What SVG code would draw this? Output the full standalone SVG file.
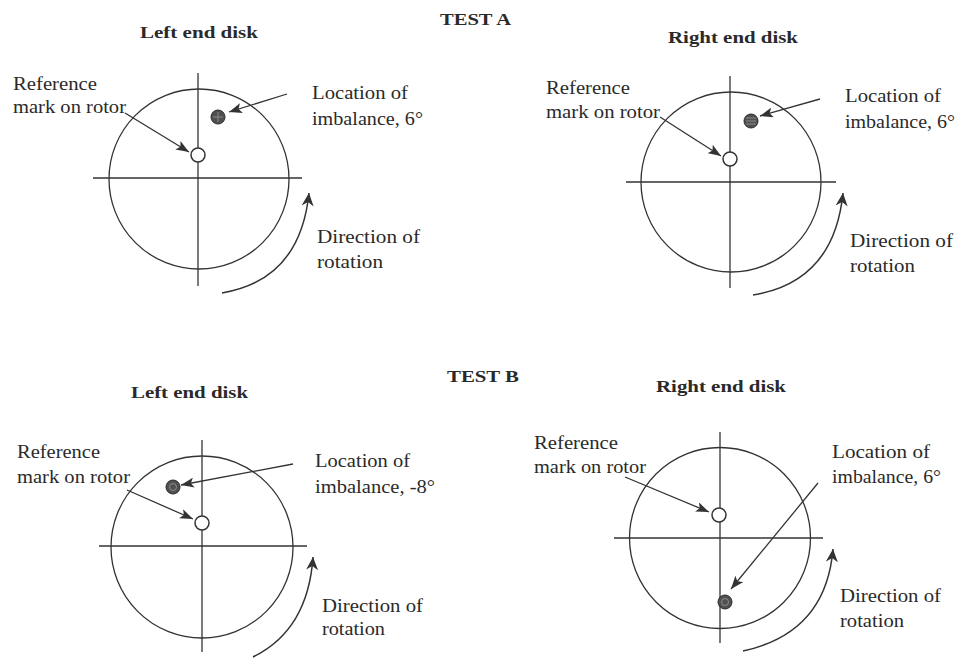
<svg xmlns="http://www.w3.org/2000/svg" width="958" height="658" viewBox="0 0 958 658">
<style>
text{font-family:"Liberation Serif","Times New Roman",serif;fill:#2a2a2a;}
.lbl{font-size:18px;}
.ttl{font-size:17px;font-weight:bold;}
.disk{fill:none;stroke:#333;stroke-width:1.3;}
.axis{stroke:#333;stroke-width:1.3;}
.ref{fill:#fff;stroke:#333;stroke-width:1.5;}
.imb{fill:#505050;stroke:#2a2a2a;stroke-width:1;}
.hatch{stroke:#9a9a9a;stroke-width:0.8;fill:none;}
.arr{fill:none;stroke:#333;stroke-width:1.3;marker-end:url(#tri);}
.rot{fill:none;stroke:#333;stroke-width:1.5;marker-end:url(#curvehead);}
</style>
<defs>
<marker id="tri" markerUnits="userSpaceOnUse" markerWidth="14" markerHeight="10" refX="13" refY="5" orient="auto">
<path d="M0,0 L13,5 L0,10 L3,5 z" fill="#333"/>
</marker>
<marker id="curvehead" markerUnits="userSpaceOnUse" markerWidth="14" markerHeight="12" refX="13" refY="6" orient="auto">
<path d="M0,0 L13,6 L0,12 L4,6 z" fill="#333"/>
</marker>
</defs>
<rect width="958" height="658" fill="#fff"/>

<g id="titles">
<text class="ttl" x="440" y="25" textLength="71" lengthAdjust="spacingAndGlyphs">TEST A</text>
<text class="ttl" x="447" y="382" textLength="72" lengthAdjust="spacingAndGlyphs">TEST B</text>
</g>

<!-- Panel 1: Test A left -->
<g id="a-left-title"><text class="ttl" x="140" y="38" textLength="118" lengthAdjust="spacingAndGlyphs">Left end disk</text></g>
<g id="a-left-disk">
<circle class="disk" cx="199" cy="179" r="90"/>
<line class="axis" x1="198" y1="73" x2="198" y2="286"/>
<line class="axis" x1="93" y1="178" x2="302" y2="178"/>
</g>
<g id="a-left-refmark"><circle class="ref" cx="198" cy="155" r="7"/></g>
<g id="a-left-imbalance"><circle class="imb" cx="218" cy="117" r="7"/><path class="hatch" d="M213,117 h10 M218,112 v10"/></g>
<g id="a-left-reflabel">
<text class="lbl" x="13" y="90" textLength="84" lengthAdjust="spacingAndGlyphs">Reference</text>
<text class="lbl" x="13" y="113" textLength="113" lengthAdjust="spacingAndGlyphs">mark on rotor</text>
</g>
<g id="a-left-imblabel">
<text class="lbl" x="312" y="99" textLength="96" lengthAdjust="spacingAndGlyphs">Location of</text>
<text class="lbl" x="312" y="125" textLength="111" lengthAdjust="spacingAndGlyphs">imbalance, 6°</text>
</g>
<g id="a-left-rotlabel">
<text class="lbl" x="317" y="243" textLength="103" lengthAdjust="spacingAndGlyphs">Direction of</text>
<text class="lbl" x="317" y="268" textLength="66" lengthAdjust="spacingAndGlyphs">rotation</text>
</g>

<!-- Panel 2: Test A right -->
<g id="a-right-title"><text class="ttl" x="668" y="43" textLength="130" lengthAdjust="spacingAndGlyphs">Right end disk</text></g>
<g id="a-right-disk">
<circle class="disk" cx="731" cy="182" r="90"/>
<line class="axis" x1="730" y1="76" x2="730" y2="288"/>
<line class="axis" x1="626" y1="182" x2="836" y2="182"/>
</g>
<g id="a-right-refmark"><circle class="ref" cx="730" cy="159" r="7"/></g>
<g id="a-right-imbalance"><circle class="imb" cx="751" cy="121" r="7"/><path class="hatch" d="M746,121 h10 M746,118 h10 M746,124 h10"/></g>
<g id="a-right-reflabel">
<text class="lbl" x="546" y="94" textLength="84" lengthAdjust="spacingAndGlyphs">Reference</text>
<text class="lbl" x="546" y="118" textLength="114" lengthAdjust="spacingAndGlyphs">mark on rotor</text>
</g>
<g id="a-right-imblabel">
<text class="lbl" x="845" y="102" textLength="96" lengthAdjust="spacingAndGlyphs">Location of</text>
<text class="lbl" x="845" y="128" textLength="110" lengthAdjust="spacingAndGlyphs">imbalance, 6°</text>
</g>
<g id="a-right-rotlabel">
<text class="lbl" x="850" y="247" textLength="103" lengthAdjust="spacingAndGlyphs">Direction of</text>
<text class="lbl" x="850" y="272" textLength="65" lengthAdjust="spacingAndGlyphs">rotation</text>
</g>

<!-- Panel 3: Test B left -->
<g id="b-left-title"><text class="ttl" x="131" y="398" textLength="117" lengthAdjust="spacingAndGlyphs">Left end disk</text></g>
<g id="b-left-disk">
<circle class="disk" cx="202" cy="547" r="91"/>
<line class="axis" x1="202" y1="440" x2="202" y2="652"/>
<line class="axis" x1="99" y1="546" x2="307" y2="546"/>
</g>
<g id="b-left-refmark"><circle class="ref" cx="202" cy="523" r="7"/></g>
<g id="b-left-imbalance"><circle class="imb" cx="173" cy="487" r="7"/><circle class="hatch" cx="173" cy="487" r="3.5"/></g>
<g id="b-left-reflabel">
<text class="lbl" x="17" y="458" textLength="83" lengthAdjust="spacingAndGlyphs">Reference</text>
<text class="lbl" x="17" y="483" textLength="113" lengthAdjust="spacingAndGlyphs">mark on rotor</text>
</g>
<g id="b-left-imblabel">
<text class="lbl" x="315" y="467" textLength="95" lengthAdjust="spacingAndGlyphs">Location of</text>
<text class="lbl" x="315" y="493" textLength="120" lengthAdjust="spacingAndGlyphs">imbalance, -8°</text>
</g>
<g id="b-left-rotlabel">
<text class="lbl" x="322" y="612" textLength="101" lengthAdjust="spacingAndGlyphs">Direction of</text>
<text class="lbl" x="322" y="635" textLength="63" lengthAdjust="spacingAndGlyphs">rotation</text>
</g>

<!-- Panel 4: Test B right -->
<g id="b-right-title"><text class="ttl" x="656" y="392" textLength="130" lengthAdjust="spacingAndGlyphs">Right end disk</text></g>
<g id="b-right-disk">
<circle class="disk" cx="720" cy="538" r="90.5"/>
<line class="axis" x1="720" y1="432" x2="720" y2="643"/>
<line class="axis" x1="614" y1="538" x2="823" y2="538"/>
</g>
<g id="b-right-refmark"><circle class="ref" cx="719" cy="515" r="7"/></g>
<g id="b-right-imbalance"><circle class="imb" cx="725" cy="602" r="7"/><circle class="hatch" cx="725" cy="602" r="3.5"/></g>
<g id="b-right-reflabel">
<text class="lbl" x="534" y="449" textLength="84" lengthAdjust="spacingAndGlyphs">Reference</text>
<text class="lbl" x="534" y="473" textLength="112" lengthAdjust="spacingAndGlyphs">mark on rotor</text>
</g>
<g id="b-right-imblabel">
<text class="lbl" x="832" y="458" textLength="98" lengthAdjust="spacingAndGlyphs">Location of</text>
<text class="lbl" x="832" y="483" textLength="109" lengthAdjust="spacingAndGlyphs">imbalance, 6°</text>
</g>
<g id="b-right-rotlabel">
<text class="lbl" x="840" y="602" textLength="101" lengthAdjust="spacingAndGlyphs">Direction of</text>
<text class="lbl" x="840" y="627" textLength="64" lengthAdjust="spacingAndGlyphs">rotation</text>
</g>

<g id="connectors">
<!-- Test A left -->
<line class="arr" x1="287" y1="94" x2="229" y2="112"/>
<line class="arr" x1="125" y1="113" x2="189" y2="152"/>
<path class="rot" d="M222,293 Q300,280 309,193"/>
<!-- Test A right -->
<line class="arr" x1="820" y1="99" x2="760" y2="116"/>
<line class="arr" x1="660" y1="117" x2="721" y2="156"/>
<path class="rot" d="M753,295 Q834,282 843,193"/>
<!-- Test B left -->
<line class="arr" x1="293" y1="464" x2="181" y2="485"/>
<line class="arr" x1="127" y1="490" x2="193" y2="519"/>
<path class="rot" d="M253,657 Q308,630 313,557"/>
<!-- Test B right -->
<line class="arr" x1="818" y1="483" x2="731" y2="589"/>
<line class="arr" x1="625" y1="477" x2="709" y2="512"/>
<path class="rot" d="M743,651 Q826,633 833,549"/>
</g>
</svg>
